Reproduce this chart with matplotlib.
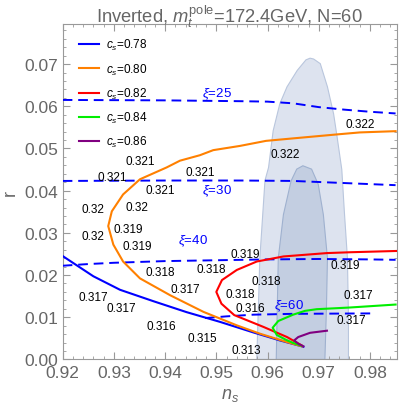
import matplotlib
matplotlib.use("Agg")
import matplotlib.pyplot as plt
from matplotlib.ticker import MultipleLocator

plt.rcParams['font.family'] = ['Liberation Sans', 'DejaVu Sans']
plt.rcParams['mathtext.fontset'] = 'custom'
plt.rcParams['mathtext.rm'] = 'Liberation Sans'
plt.rcParams['mathtext.it'] = 'Liberation Sans:italic'

GREY = '#666666'

# Planck-like confidence regions (ns, r)
outer_ns = [0.9579, 0.9582, 0.9585, 0.9595, 0.9602, 0.9611, 0.9624, 0.9638, 0.9658, 0.9675,
            0.9683, 0.9690, 0.9703, 0.9717, 0.9729, 0.9736, 0.9745, 0.9750, 0.9756, 0.9758, 0.9758]
outer_r = [0.0, 0.012, 0.024, 0.0424, 0.0455, 0.0542, 0.0606, 0.0646, 0.0685, 0.0710,
           0.0714, 0.0712, 0.0701, 0.0646, 0.0582, 0.0526, 0.0450, 0.0350, 0.0240, 0.0100, 0.0]
inner_ns = [0.9617, 0.9619, 0.9621, 0.9631, 0.9646, 0.9657, 0.9669, 0.9686, 0.9699, 0.9709,
            0.9717, 0.9715, 0.9712]
inner_r = [0.0, 0.012, 0.024, 0.0343, 0.0423, 0.0451, 0.0459, 0.0451, 0.0415, 0.0343,
           0.0240, 0.0120, 0.0]

# c_s curves
cs_labels = ['0.78', '0.80', '0.82', '0.84', '0.86']
cs_colors = ['#0000ff', '#ff8000', '#ff0000', '#00ee00', '#800080']
blue_ns = [0.920, 0.926, 0.9312, 0.9377, 0.9442, 0.9507, 0.9572, 0.9624, 0.9670]
blue_r = [0.0245, 0.0197, 0.0165, 0.0138, 0.0112, 0.0089, 0.0064, 0.0045, 0.0030]
orange_ns = [0.985, 0.978, 0.9733, 0.966, 0.9597, 0.9546, 0.9494, 0.9468, 0.9429, 0.9403,
             0.9351, 0.9318, 0.9296, 0.9289, 0.9299, 0.9318, 0.9351, 0.9410, 0.9475, 0.9540,
             0.9585, 0.9638, 0.9667]
orange_r = [0.0541, 0.0538, 0.0533, 0.0525, 0.0518, 0.0506, 0.0496, 0.0484, 0.0471, 0.0455,
            0.0427, 0.0391, 0.0351, 0.0316, 0.0272, 0.0232, 0.0192, 0.0152, 0.01126, 0.00807,
            0.0061, 0.0041, 0.0031]
red_ns = [0.9852, 0.9762, 0.9716, 0.9631, 0.9579, 0.9540, 0.9511, 0.9500, 0.9510, 0.9535,
          0.9592, 0.9638, 0.9667]
red_r = [0.0257, 0.0254, 0.0252, 0.0244, 0.0232, 0.0212, 0.0188, 0.0160, 0.0132, 0.0105,
         0.0077, 0.0053, 0.0033]
green_ns = [0.985, 0.9761, 0.9729, 0.9696, 0.9673, 0.9650, 0.9621, 0.9610, 0.9618, 0.9635,
            0.9650, 0.9667]
green_r = [0.0130, 0.0123, 0.0121, 0.0119, 0.0115, 0.0106, 0.0091, 0.0075, 0.0058, 0.0047,
           0.0039, 0.0032]
purple_ns = [0.9716, 0.9683, 0.9660, 0.9652, 0.9660, 0.9670]
purple_r = [0.0068, 0.0063, 0.0053, 0.0045, 0.0037, 0.0031]
curves_ns = [blue_ns, orange_ns, red_ns, green_ns, purple_ns]
curves_r = [blue_r, orange_r, red_r, green_r, purple_r]

# constant xi lines
xi25_ns = [0.92, 0.94, 0.955, 0.96, 0.965, 0.97, 0.975, 0.98, 0.985]
xi25_r = [0.0615, 0.0614, 0.0612, 0.0611, 0.0607, 0.0598, 0.0592, 0.0587, 0.0583]
xi30_ns = [0.92, 0.94, 0.955, 0.965, 0.975, 0.985]
xi30_r = [0.0423, 0.0424, 0.0424, 0.0423, 0.0418, 0.0413]
xi40_ns = [0.92, 0.925, 0.93, 0.94, 0.95, 0.96, 0.97, 0.98, 0.985]
xi40_r = [0.0222, 0.0226, 0.0229, 0.0233, 0.0235, 0.0237, 0.0238, 0.0237, 0.0236]
xi60_ns = [0.9478, 0.952, 0.9572, 0.965, 0.9803]
xi60_r = [0.0098, 0.0102, 0.0106, 0.0108, 0.0109]
xi_ns = [xi25_ns, xi30_ns, xi40_ns, xi60_ns]
xi_r = [xi25_r, xi30_r, xi40_r, xi60_r]
xi_names = ['25', '30', '40', '60']
xi_lab_ns = [0.9501, 0.9501, 0.9455, 0.9641]
xi_lab_r = [0.0630, 0.0401, 0.0283, 0.0128]

# annotation numbers along the curves
lab_txt = ['0.322', '0.322', '0.321', '0.321', '0.321', '0.321', '0.32', '0.32', '0.32',
           '0.319', '0.319', '0.318', '0.318', '0.319', '0.319', '0.318', '0.318', '0.317',
           '0.316', '0.316', '0.315', '0.313', '0.317', '0.317', '0.317', '0.317']
lab_ns = [0.9781, 0.9634, 0.9351, 0.9296, 0.9390, 0.9468, 0.9260, 0.9345, 0.9260,
          0.9328, 0.9345, 0.9390, 0.9490, 0.9556, 0.9751, 0.9597, 0.9546, 0.9439,
          0.9566, 0.9393, 0.9472, 0.9559, 0.9260, 0.9315, 0.9777, 0.9764]
lab_r = [0.0559, 0.0488, 0.0471, 0.0432, 0.0401, 0.0444, 0.0357, 0.0361, 0.0292,
         0.0310, 0.0268, 0.0206, 0.0214, 0.0249, 0.0224, 0.0187, 0.0154, 0.0167,
         0.0121, 0.0079, 0.0051, 0.0023, 0.0148, 0.0121, 0.0152, 0.0093]

fig = plt.figure(figsize=(3.99, 4.10), dpi=100)
ax = fig.add_axes([0.157, 0.121, 0.837, 0.818])

ax.fill(outer_ns, outer_r, facecolor='#dde3ef', edgecolor='#b9c6dd', lw=0.8, zorder=1)
ax.fill(inner_ns, inner_r, facecolor='#c3cee1', edgecolor='#9fb1cf', lw=0.8, zorder=2)

for xs, ys in zip(xi_ns, xi_r):
    ax.plot(xs, ys, color='#0000ff', lw=1.4, dashes=(5, 3), zorder=3)
for name, x, y in zip(xi_names, xi_lab_ns, xi_lab_r):
    ax.text(x, y, r'$\xi$=' + name, color='#0000ff', fontsize=9.5, ha='center', va='center', zorder=5)

for xs, ys, c, lab in zip(curves_ns, curves_r, cs_colors, cs_labels):
    ax.plot(xs, ys, color=c, lw=1.5, zorder=4, label=r'$c_s$=' + lab)

for t, x, y in zip(lab_txt, lab_ns, lab_r):
    ax.text(x, y, t, fontsize=8.5, ha='center', va='center', color='black', zorder=5)

leg = ax.legend(loc='upper left', bbox_to_anchor=(0.035, 0.975), frameon=False, fontsize=8.5,
                handlelength=1.7, labelspacing=0.78, borderaxespad=0, handletextpad=0.6)

ax.set_xlim(0.92, 0.9852)
ax.set_ylim(0.0, 0.0795)
ax.xaxis.set_major_locator(MultipleLocator(0.01))
ax.xaxis.set_minor_locator(MultipleLocator(0.002))
ax.yaxis.set_major_locator(MultipleLocator(0.01))
ax.yaxis.set_minor_locator(MultipleLocator(0.002))
ax.xaxis.set_major_formatter(plt.FuncFormatter(lambda v, _: f'{v:.2f}'))
ax.yaxis.set_major_formatter(plt.FuncFormatter(lambda v, _: f'{v:.2f}'))
ax.tick_params(which='both', direction='in', top=True, right=True, colors='#999999',
               labelcolor=GREY, labelsize=12.5)
ax.tick_params(which='major', length=5)
ax.tick_params(which='minor', length=2.5)
ax.tick_params(axis='x', pad=4)
ax.tick_params(axis='y', pad=3)
for s in ax.spines.values():
    s.set_color('#999999')

ax.set_xlabel(r'$n_s$', color=GREY, fontsize=13, labelpad=4)
ax.set_ylabel('r', color=GREY, fontsize=13, labelpad=4)
fig.text(0.575, 0.943, r'Inverted, $m_t^{\rm pole}$=172.4GeV, N=60', color=GREY, fontsize=13.2,
         ha='center', va='baseline')

fig.savefig('out.png', dpi=100)
